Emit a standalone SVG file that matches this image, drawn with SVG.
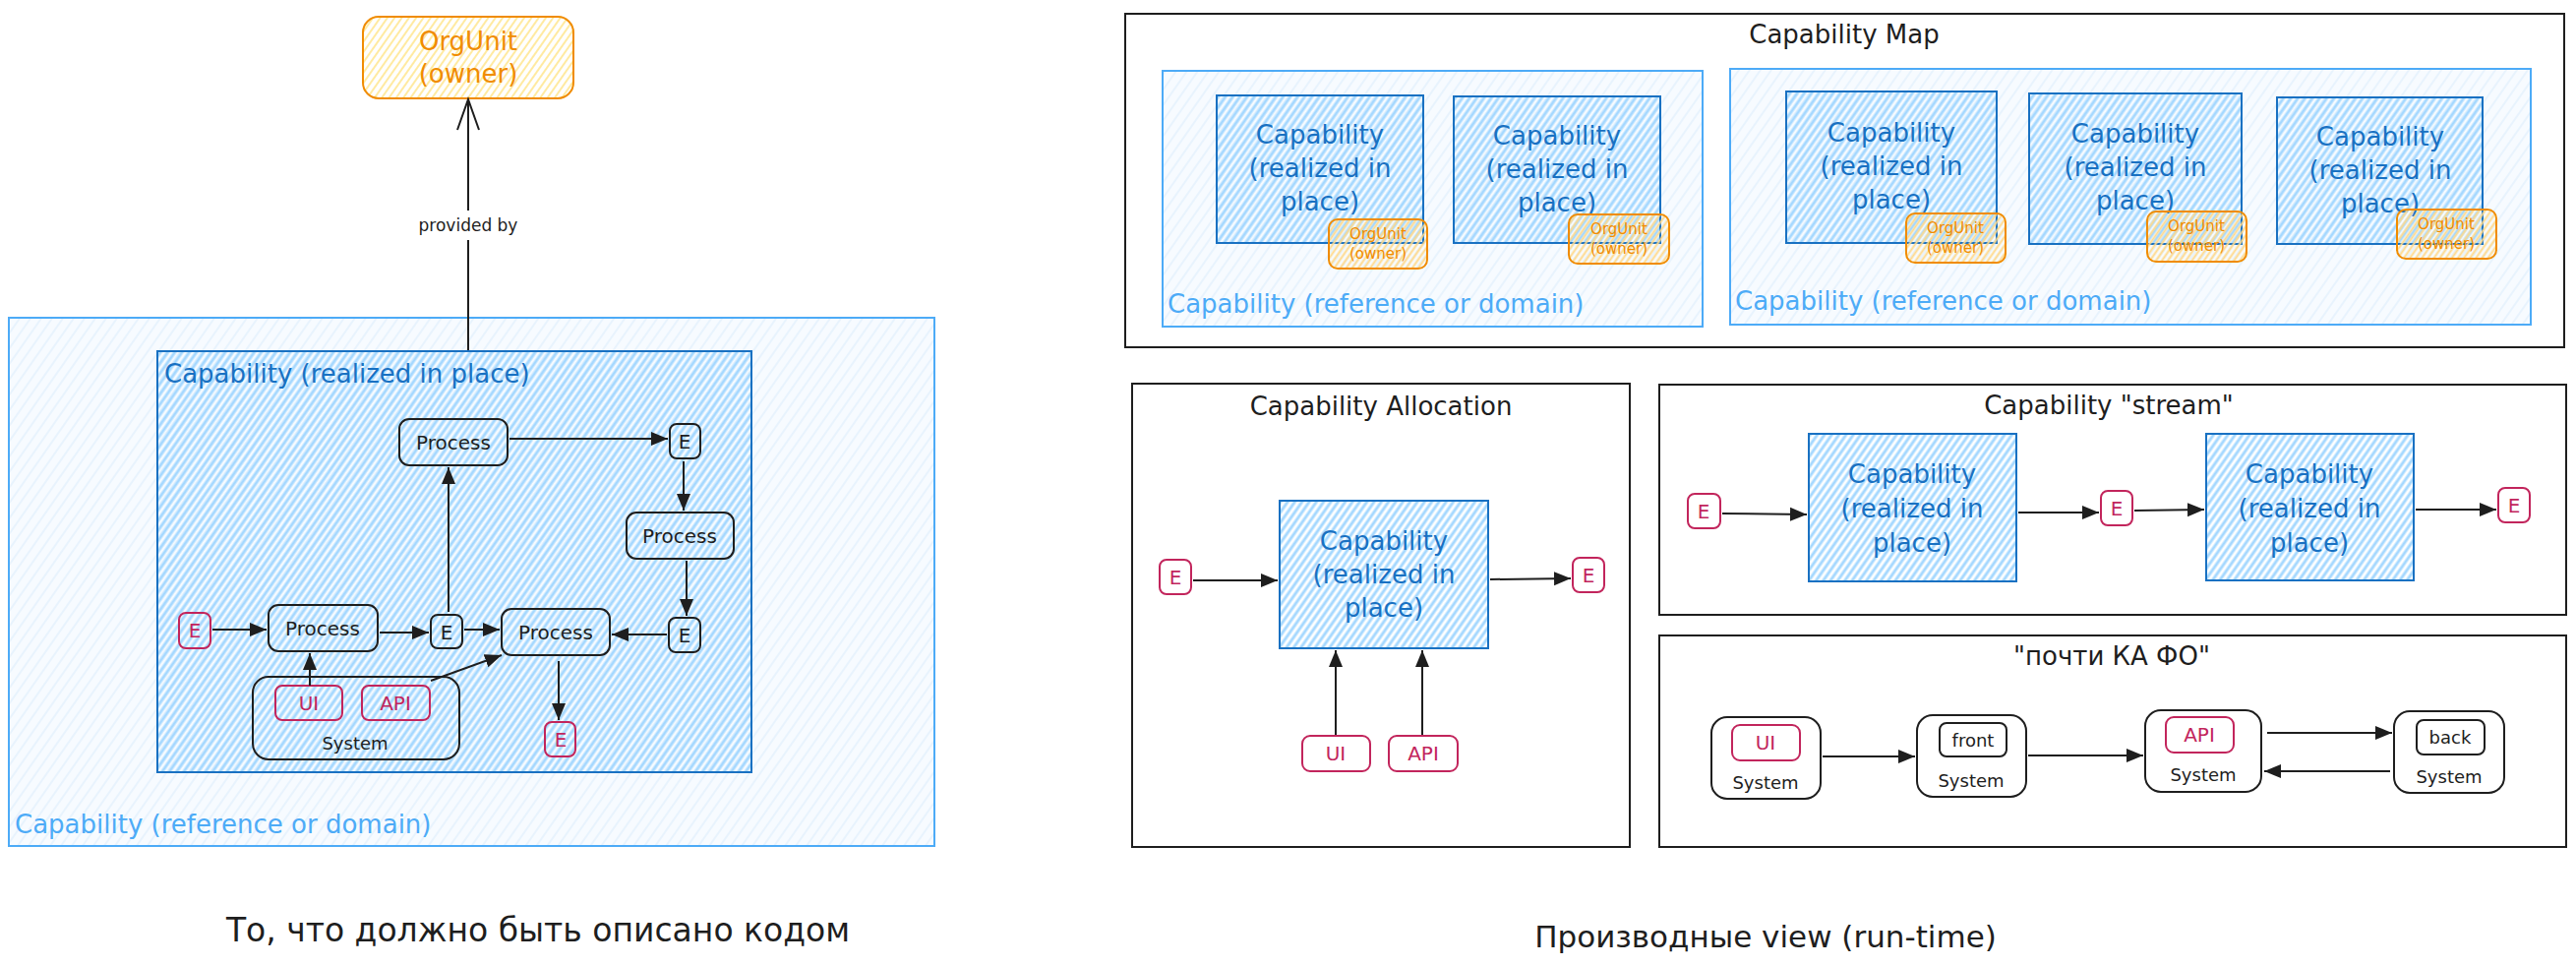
<svg xmlns="http://www.w3.org/2000/svg" width="2619" height="982" viewBox="0 0 2619 982">
<defs>
<pattern id="hBlue" width="6" height="6" patternUnits="userSpaceOnUse" patternTransform="rotate(35)"><line x1="3" y1="0" x2="3" y2="6" stroke="#a5d8ff" stroke-width="3"/></pattern>
<pattern id="hLight" width="9" height="9" patternUnits="userSpaceOnUse" patternTransform="rotate(35)"><rect width="9" height="9" fill="#f7fbff"/><line x1="4" y1="0" x2="4" y2="9" stroke="#e3f1fd" stroke-width="1.5"/></pattern>
<pattern id="hOrange" width="6" height="6" patternUnits="userSpaceOnUse" patternTransform="rotate(35)"><line x1="3" y1="0" x2="3" y2="6" stroke="#ffe58a" stroke-width="2" stroke-opacity="0.8"/></pattern>
<pattern id="hOrangeS" width="5" height="5" patternUnits="userSpaceOnUse" patternTransform="rotate(35)"><line x1="2.5" y1="0" x2="2.5" y2="5" stroke="#ffd98a" stroke-width="2"/></pattern>
<marker id="tri" markerUnits="userSpaceOnUse" markerWidth="18" markerHeight="16" refX="17" refY="8" orient="auto"><path d="M0,1 L17,8 L0,15 z" fill="#1e1e1e"/></marker>
<style>
text{font-family:"DejaVu Sans","Liberation Sans",sans-serif;dominant-baseline:central}
.frame{fill:none;stroke:#1e1e1e;stroke-width:2}
.dom{fill:url(#hLight);stroke:#4dabf7;stroke-width:2}
.cap{fill:url(#hBlue);stroke:#1971c2;stroke-width:2}
.org{fill:url(#hOrange);stroke:#f08c00;stroke-width:2}
.orgs{fill:url(#hOrangeS);stroke:#f08c00;stroke-width:2}
.proc{fill:none;stroke:#1e1e1e;stroke-width:2}
.ev{fill:none;stroke:#c2255c;stroke-width:2}
.conn{stroke:#1e1e1e;stroke-width:2;fill:none;marker-end:url(#tri)}
.t-title{font-size:26px;fill:#1e1e1e;text-anchor:middle}
.t-cap{font-size:26px;fill:#1971c2;text-anchor:middle}
.t-dom{font-size:26px;fill:#4dabf7}
.t-org{font-size:15px;fill:#f08c00;text-anchor:middle}
.t-black{font-size:20px;fill:#1e1e1e;text-anchor:middle}
.t-red{font-size:20px;fill:#c2255c;text-anchor:middle}
.t-sys{font-size:18px;fill:#1e1e1e;text-anchor:middle}
.t-big{font-size:33px;fill:#1e1e1e;text-anchor:middle}
</style>
</defs>
<rect width="2619" height="982" fill="#ffffff"/>

<!-- LEFT PART -->
<g id="domain-left">
<rect class="dom" x="9" y="323" width="941" height="537"/>
<text class="t-dom" x="15" y="838">Capability (reference or domain)</text>
</g>
<g id="capability-left">
<rect class="cap" x="160" y="357" width="604" height="428"/>
<text class="t-cap" x="167" y="380" style="text-anchor:start">Capability (realized in place)</text>
</g>
<g id="orgunit-top">
<rect class="org" x="369" y="17" width="214" height="83" rx="16"/>
<text class="t-cap" x="476" y="42" style="fill:#f08c00">OrgUnit</text>
<text class="t-cap" x="476" y="75" style="fill:#f08c00">(owner)</text>
</g>
<g id="process-1"><rect class="proc" x="406" y="426" width="110" height="47" rx="10"/><text class="t-black" x="461" y="450">Process</text></g>
<g id="event-1"><rect class="proc" x="681" y="431" width="31" height="35" rx="7"/><text class="t-black" x="696" y="449">E</text></g>
<g id="process-2"><rect class="proc" x="637" y="521" width="109" height="47" rx="10"/><text class="t-black" x="691" y="545">Process</text></g>
<g id="event-2"><rect class="proc" x="680" y="628" width="32" height="35" rx="7"/><text class="t-black" x="696" y="646">E</text></g>
<g id="process-3"><rect class="proc" x="510" y="619" width="110" height="47" rx="10"/><text class="t-black" x="565" y="643">Process</text></g>
<g id="event-3"><rect class="proc" x="438" y="625" width="32" height="34" rx="7"/><text class="t-black" x="454" y="643">E</text></g>
<g id="process-4"><rect class="proc" x="273" y="615" width="111" height="47" rx="10"/><text class="t-black" x="328" y="639">Process</text></g>
<g id="event-0"><rect class="ev" x="182" y="623" width="32" height="36" rx="7"/><text class="t-red" x="198" y="641">E</text></g>
<g id="event-4"><rect class="ev" x="554" y="734" width="31" height="35" rx="7"/><text class="t-red" x="570" y="752">E</text></g>
<g id="system-left">
<rect class="proc" x="257" y="688" width="210" height="84" rx="16"/>
<text class="t-sys" x="361" y="755">System</text>
<rect class="ev" x="280" y="697" width="68" height="35" rx="7"/><text class="t-red" x="314" y="715">UI</text>
<rect class="ev" x="368" y="697" width="69" height="35" rx="7"/><text class="t-red" x="402" y="715">API</text>
</g>
<text id="caption-left" class="t-big" x="547" y="945">То, что должно быть описано кодом</text>

<!-- CAPABILITY MAP -->
<g id="frame-map">
<rect class="frame" x="1144" y="14" width="1463" height="339"/>
<text class="t-title" x="1875" y="35">Capability Map</text>
</g>
<g id="map-domain-1">
<rect class="dom" x="1182" y="72" width="549" height="260"/>
<text class="t-dom" x="1187" y="309">Capability (reference or domain)</text>
</g>
<g id="map-domain-2">
<rect class="dom" x="1759" y="70" width="814" height="260"/>
<text class="t-dom" x="1764" y="306">Capability (reference or domain)</text>
</g>
<g id="map-cap-1"><rect class="cap" x="1237" y="97" width="210" height="150"/>
<text class="t-cap" x="1342" y="137">Capability</text><text class="t-cap" x="1342" y="171">(realized in</text><text class="t-cap" x="1342" y="205">place)</text></g>
<g id="map-cap-2"><rect class="cap" x="1478" y="98" width="210" height="149"/>
<text class="t-cap" x="1583" y="138">Capability</text><text class="t-cap" x="1583" y="172">(realized in</text><text class="t-cap" x="1583" y="206">place)</text></g>
<g id="map-cap-3"><rect class="cap" x="1816" y="93" width="214" height="154"/>
<text class="t-cap" x="1923" y="135">Capability</text><text class="t-cap" x="1923" y="169">(realized in</text><text class="t-cap" x="1923" y="203">place)</text></g>
<g id="map-cap-4"><rect class="cap" x="2063" y="95" width="216" height="153"/>
<text class="t-cap" x="2171" y="136">Capability</text><text class="t-cap" x="2171" y="170">(realized in</text><text class="t-cap" x="2171" y="204">place)</text></g>
<g id="map-cap-5"><rect class="cap" x="2315" y="99" width="209" height="149"/>
<text class="t-cap" x="2420" y="139">Capability</text><text class="t-cap" x="2420" y="173">(realized in</text><text class="t-cap" x="2420" y="207">place)</text></g>
<g id="map-org-1"><rect class="orgs" x="1351" y="223" width="100" height="50" rx="9"/><text class="t-org" x="1401" y="238">OrgUnit</text><text class="t-org" x="1401" y="258">(owner)</text></g>
<g id="map-org-2"><rect class="orgs" x="1595" y="218" width="102" height="50" rx="9"/><text class="t-org" x="1646" y="233">OrgUnit</text><text class="t-org" x="1646" y="253">(owner)</text></g>
<g id="map-org-3"><rect class="orgs" x="1938" y="217" width="101" height="50" rx="9"/><text class="t-org" x="1988" y="232">OrgUnit</text><text class="t-org" x="1988" y="252">(owner)</text></g>
<g id="map-org-4"><rect class="orgs" x="2183" y="215" width="101" height="51" rx="9"/><text class="t-org" x="2233" y="230">OrgUnit</text><text class="t-org" x="2233" y="250">(owner)</text></g>
<g id="map-org-5"><rect class="orgs" x="2437" y="213" width="101" height="50" rx="9"/><text class="t-org" x="2487" y="228">OrgUnit</text><text class="t-org" x="2487" y="248">(owner)</text></g>

<!-- CAPABILITY ALLOCATION -->
<g id="frame-allocation">
<rect class="frame" x="1151" y="390" width="506" height="471"/>
<text class="t-title" x="1404" y="413">Capability Allocation</text>
</g>
<g id="alloc-cap"><rect class="cap" x="1301" y="509" width="212" height="150"/>
<text class="t-cap" x="1407" y="550">Capability</text><text class="t-cap" x="1407" y="584">(realized in</text><text class="t-cap" x="1407" y="618">place)</text></g>
<g id="alloc-e-in"><rect class="ev" x="1179" y="569" width="32" height="35" rx="7"/><text class="t-red" x="1195" y="587">E</text></g>
<g id="alloc-e-out"><rect class="ev" x="1599" y="567" width="32" height="35" rx="7"/><text class="t-red" x="1615" y="585">E</text></g>
<g id="alloc-ui"><rect class="ev" x="1324" y="748" width="69" height="36" rx="8"/><text class="t-red" x="1358" y="766">UI</text></g>
<g id="alloc-api"><rect class="ev" x="1412" y="748" width="70" height="36" rx="8"/><text class="t-red" x="1447" y="766">API</text></g>

<!-- CAPABILITY STREAM -->
<g id="frame-stream">
<rect class="frame" x="1687" y="391" width="922" height="234"/>
<text class="t-title" x="2144" y="412">Capability "stream"</text>
</g>
<g id="stream-cap-1"><rect class="cap" x="1839" y="441" width="211" height="150"/>
<text class="t-cap" x="1944" y="482">Capability</text><text class="t-cap" x="1944" y="517">(realized in</text><text class="t-cap" x="1944" y="552">place)</text></g>
<g id="stream-cap-2"><rect class="cap" x="2243" y="441" width="211" height="149"/>
<text class="t-cap" x="2348" y="482">Capability</text><text class="t-cap" x="2348" y="517">(realized in</text><text class="t-cap" x="2348" y="552">place)</text></g>
<g id="stream-e-1"><rect class="ev" x="1716" y="502" width="33" height="35" rx="7"/><text class="t-red" x="1732" y="520">E</text></g>
<g id="stream-e-2"><rect class="ev" x="2136" y="499" width="32" height="35" rx="7"/><text class="t-red" x="2152" y="517">E</text></g>
<g id="stream-e-3"><rect class="ev" x="2540" y="496" width="32" height="35" rx="7"/><text class="t-red" x="2556" y="514">E</text></g>

<!-- POCHTI KA FO -->
<g id="frame-fo">
<rect class="frame" x="1687" y="646" width="922" height="215"/>
<text class="t-title" x="2147" y="667">"почти КА ФО"</text>
</g>
<g id="fo-system-1"><rect class="proc" x="1740" y="729" width="111" height="83" rx="16"/>
<rect class="ev" x="1761" y="737" width="69" height="36" rx="8"/><text class="t-red" x="1795" y="755">UI</text>
<text class="t-sys" x="1795" y="795">System</text></g>
<g id="fo-system-2"><rect class="proc" x="1949" y="727" width="111" height="83" rx="16"/>
<rect class="proc" x="1972" y="735" width="68" height="34" rx="7"/><text class="t-sys" x="2006" y="752">front</text>
<text class="t-sys" x="2004" y="793">System</text></g>
<g id="fo-system-3"><rect class="proc" x="2181" y="722" width="118" height="83" rx="16"/>
<rect class="ev" x="2202" y="729" width="69" height="36" rx="8"/><text class="t-red" x="2236" y="747">API</text>
<text class="t-sys" x="2240" y="787">System</text></g>
<g id="fo-system-4"><rect class="proc" x="2434" y="723" width="112" height="83" rx="16"/>
<rect class="proc" x="2457" y="732" width="69" height="35" rx="7"/><text class="t-sys" x="2491" y="749">back</text>
<text class="t-sys" x="2490" y="789">System</text></g>

<text id="caption-right" class="t-big" x="1795" y="952" style="font-size:31px">Производные view (run-time)</text>

<!-- CONNECTORS -->
<g id="connectors">
<line x1="476" y1="356" x2="476" y2="244" stroke="#1e1e1e" stroke-width="2"/>
<line x1="476" y1="214" x2="476" y2="101" stroke="#1e1e1e" stroke-width="2"/>
<polyline points="465,132 476,101 487,132" fill="none" stroke="#1e1e1e" stroke-width="2"/>
<text x="476" y="229" style="font-size:17px;fill:#1e1e1e;text-anchor:middle">provided by</text>
<line class="conn" x1="216" y1="640" x2="271" y2="640"/>
<line class="conn" x1="386" y1="643" x2="436" y2="643"/>
<line class="conn" x1="472" y1="640" x2="508" y2="640"/>
<line class="conn" x1="456" y1="622" x2="456" y2="475"/>
<line class="conn" x1="518" y1="446" x2="679" y2="446"/>
<line class="conn" x1="695" y1="469" x2="695" y2="519"/>
<line class="conn" x1="698" y1="570" x2="698" y2="626"/>
<line class="conn" x1="678" y1="645" x2="622" y2="645"/>
<line class="conn" x1="315" y1="697" x2="315" y2="664"/>
<line class="conn" x1="438" y1="692" x2="510" y2="666"/>
<line class="conn" x1="568" y1="672" x2="568" y2="732"/>
<line class="conn" x1="1213" y1="590" x2="1299" y2="590"/>
<line class="conn" x1="1515" y1="589" x2="1597" y2="588"/>
<line class="conn" x1="1358" y1="747" x2="1358" y2="661"/>
<line class="conn" x1="1446" y1="747" x2="1446" y2="661"/>
<line class="conn" x1="1751" y1="522" x2="1837" y2="523"/>
<line class="conn" x1="2052" y1="521" x2="2134" y2="521"/>
<line class="conn" x1="2170" y1="519" x2="2241" y2="518"/>
<line class="conn" x1="2456" y1="518" x2="2538" y2="518"/>
<line class="conn" x1="1853" y1="769" x2="1947" y2="769"/>
<line class="conn" x1="2062" y1="768" x2="2179" y2="768"/>
<line class="conn" x1="2305" y1="745" x2="2432" y2="745"/>
<line class="conn" x1="2430" y1="784" x2="2302" y2="784"/>
</g>
</svg>
